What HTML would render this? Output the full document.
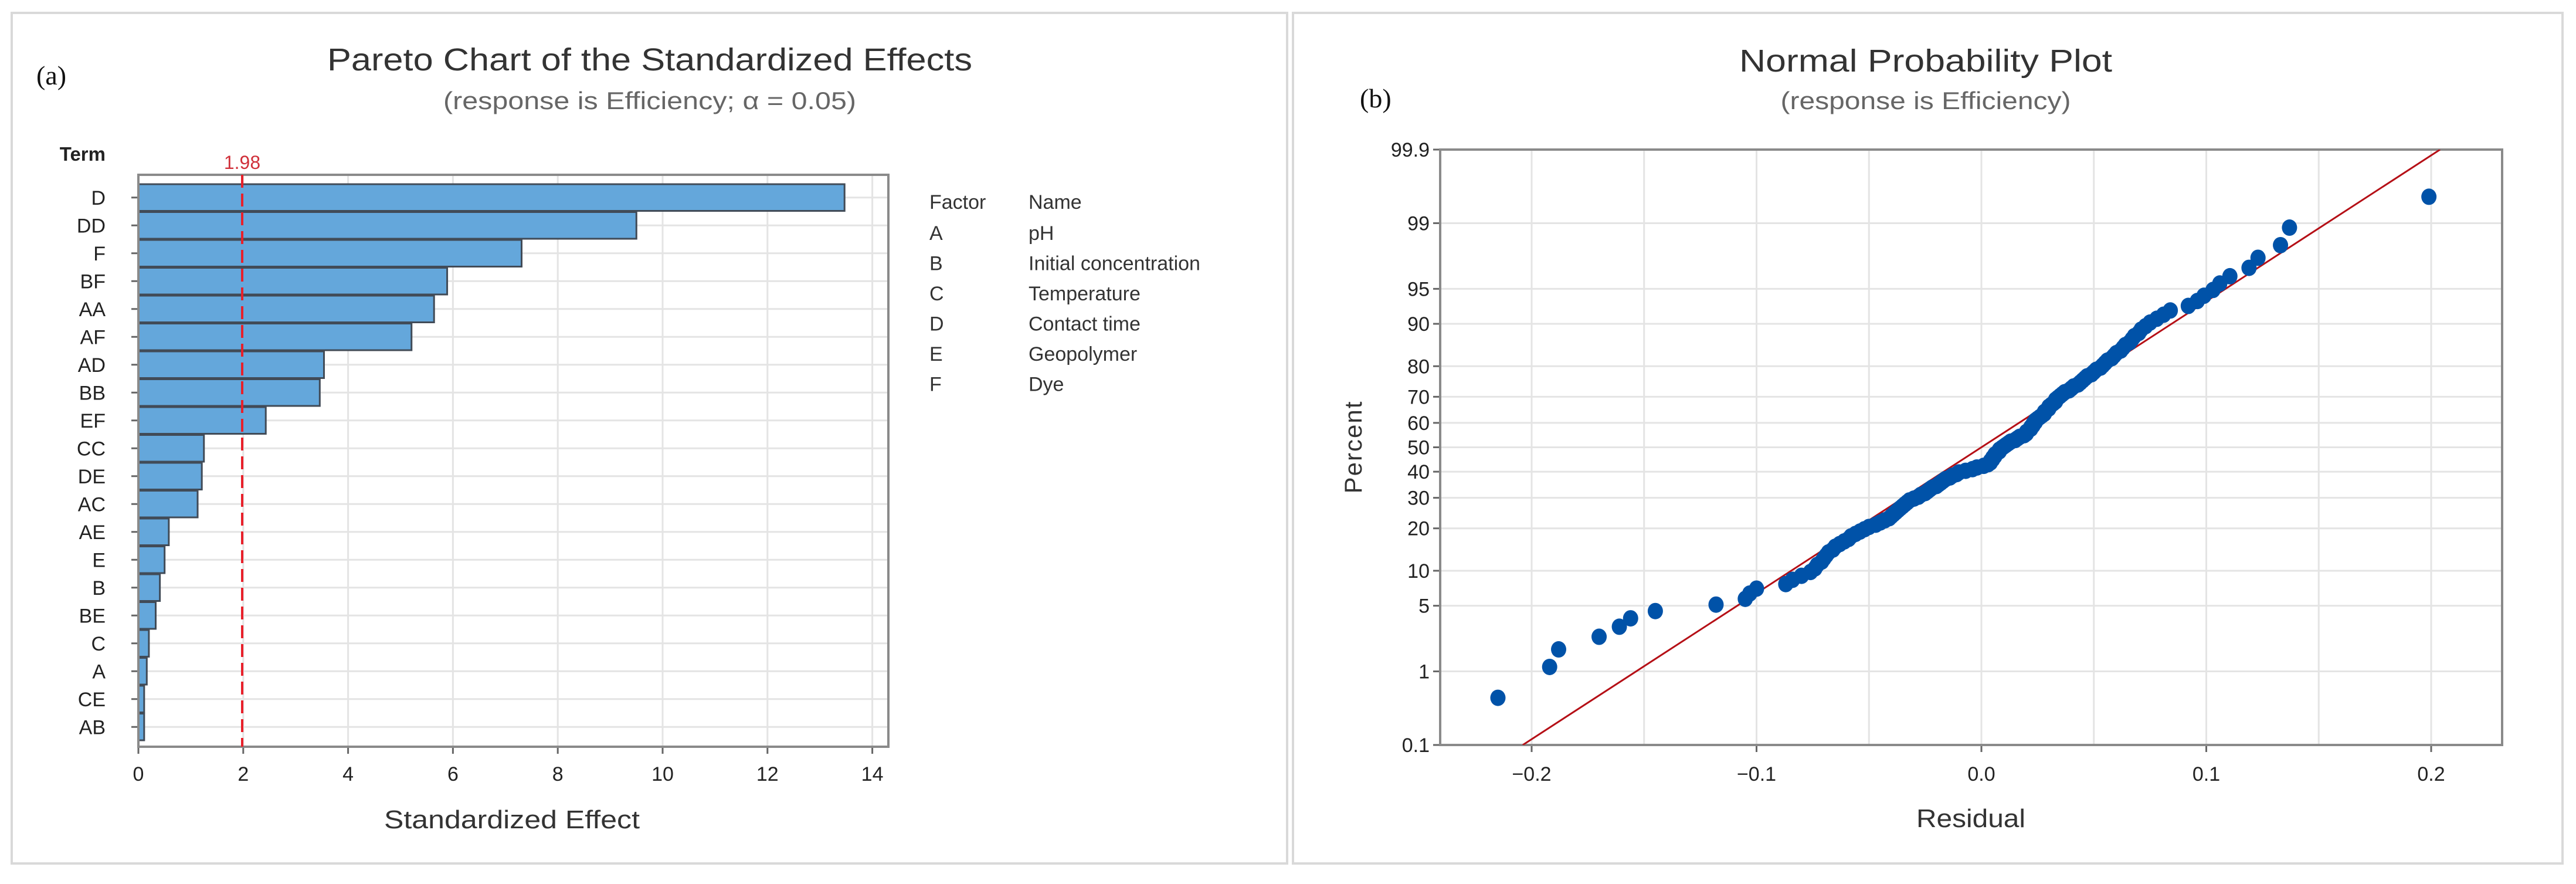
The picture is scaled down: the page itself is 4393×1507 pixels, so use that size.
<!DOCTYPE html>
<html><head><meta charset="utf-8"><style>
html,body{margin:0;padding:0;background:#fff;}
svg{display:block;font-family:"Liberation Sans",sans-serif;}
</style></head><body>
<svg id="root" width="4393" height="1507" viewBox="0 0 4393 1507" xmlns="http://www.w3.org/2000/svg">
<rect x="0" y="0" width="4393" height="1507" fill="#fff"/>
<rect x="20" y="22" width="2175" height="1450" fill="none" stroke="#d9d9d9" stroke-width="4"/>
<rect x="2205" y="22" width="2165" height="1450" fill="none" stroke="#d9d9d9" stroke-width="4"/>
<text x="62" y="144" font-family="Liberation Serif,serif" font-size="46" fill="#111">(a)</text>
<text x="1108" y="120" text-anchor="middle" font-size="54" fill="#333" textLength="1100" lengthAdjust="spacingAndGlyphs">Pareto Chart of the Standardized Effects</text>
<text x="1108" y="186" text-anchor="middle" font-size="42" fill="#666" textLength="704" lengthAdjust="spacingAndGlyphs">(response is Efficiency; α = 0.05)</text>
<text x="2319" y="183" font-family="Liberation Serif,serif" font-size="46" fill="#111">(b)</text>
<text x="3284" y="122" text-anchor="middle" font-size="54" fill="#333" textLength="636" lengthAdjust="spacingAndGlyphs">Normal Probability Plot</text>
<text x="3284" y="186" text-anchor="middle" font-size="42" fill="#666" textLength="495" lengthAdjust="spacingAndGlyphs">(response is Efficiency)</text>
<g id="pareto"></g>
<g id="prob"></g>
</svg>
<script>
// ---- Pareto data ----
const terms = ["D","DD","F","BF","AA","AF","AD","BB","EF","CC","DE","AC","AE","E","B","BE","C","A","CE","AB"];
const effects = [13.47,9.5,7.31,5.89,5.64,5.21,3.54,3.46,2.43,1.25,1.21,1.13,0.58,0.50,0.41,0.33,0.20,0.16,0.11,0.11];
const xTicks = [0,2,4,6,8,10,12,14];
const criticalValue = [1.98];
const factorCodes = ["A","B","C","D","E","F"];
const factorNames = ["pH","Initial concentration","Temperature","Contact time","Geopolymer","Dye"];
// ---- Normal probability data ----
const residuals = [-0.215,-0.192,-0.188,-0.170,-0.161,-0.156,-0.145,-0.118,-0.105,-0.103,-0.100,
-0.087,-0.084,-0.080,-0.076,
-0.074,-0.073,-0.071,-0.070,-0.069,-0.068,-0.066,-0.065,
-0.063,-0.061,-0.059,-0.058,-0.056,-0.054,-0.052,
-0.050,-0.047,-0.045,-0.043,-0.041,
-0.040,-0.039,-0.038,-0.037,-0.036,-0.035,-0.034,-0.033,-0.032,-0.030,
-0.028,-0.027,-0.025,-0.024,-0.023,-0.022,-0.020,-0.019,
-0.018,-0.017,-0.016,-0.014,-0.013,-0.011,-0.010,
-0.007,-0.004,-0.002,0.001,0.003,
0.004,0.004,0.005,0.005,0.006,0.006,0.007,0.008,0.008,0.009,0.010,
0.011,0.012,0.013,0.015,0.016,0.017,0.019,
0.020,0.020,0.021,0.022,0.022,0.023,0.023,0.024,0.024,0.025,0.026,
0.027,0.028,0.028,0.029,0.030,0.030,0.031,0.032,0.033,0.033,0.034,0.035,
0.036,0.037,0.039,0.040,0.041,0.043,0.044,
0.045,0.046,0.047,0.049,0.050,0.051,0.053,0.054,
0.055,0.056,0.058,0.059,0.060,0.062,0.063,
0.064,0.066,0.067,0.068,0.070,0.071,0.073,0.075,
0.078,0.081,0.084,0.092,0.096,0.099,0.103,0.106,
0.1105,0.119,0.123,0.133,0.137,0.199];
const fitMean = [0.0];
const fitStdDev = [0.066];
const percentTicks = [0.1,1,5,10,20,30,40,50,60,70,80,90,95,99,99.9];
const resTickLabels = ["−0.2","−0.1","0.0","0.1","0.2"];
const resTicks = [-0.2,-0.1,0,0.1,0.2];

const NS="http://www.w3.org/2000/svg";
function mk(tag, attrs, parent, text){
  const e=document.createElementNS(NS,tag);
  for(const k in attrs) e.setAttribute(k,attrs[k]);
  if(text!==undefined) e.textContent=text;
  parent.appendChild(e); return e;
}
// ===== Pareto =====
(function(){
  const g=document.getElementById('pareto');
  const L=236,R=1515,T=298,B=1273;
  const x0=236, ppu=89.4;
  const sx=v=>x0+v*ppu;
  const bandTop=313, band=47.5;
  const cy=i=>bandTop+band*(i+0.5);
  // vertical grid
  xTicks.forEach(t=>{
    if(t>0){
      const l=mk('line',{x1:sx(t),x2:sx(t),y1:T,y2:B,stroke:'#e4e4e4','stroke-width':3},g);
      
      
    }
    const tk=mk('line',{x1:sx(t),x2:sx(t),y1:B,y2:B+12,stroke:'#666','stroke-width':3},g);
    
    
    const tl=mk('text',{x:sx(t),y:1331,'text-anchor':'middle','font-size':34,fill:'#222'},g,String(t));
    
    
  });
  terms.forEach((t,i)=>{
    const gl=mk('line',{x1:L,x2:R,y1:cy(i),y2:cy(i),stroke:'#e4e4e4','stroke-width':3},g);
    
    
  });
  terms.forEach((t,i)=>{
    const r=mk('rect',{x:sx(0),y:cy(i)-band/2+1,width:sx(effects[i])-sx(0),height:band-2,fill:'#64a7db',stroke:'#414b57','stroke-width':3},g);
    
    
    const tk=mk('line',{x1:L-12,x2:L,y1:cy(i),y2:cy(i),stroke:'#666','stroke-width':3},g);
    
    
    const lb=mk('text',{x:180,y:cy(i)+12,'text-anchor':'end','font-size':34,fill:'#222'},g,t);
    
    
  });
  const fr=mk('rect',{x:L,y:T,width:R-L,height:B-T,fill:'none',stroke:'#8a8a8a','stroke-width':4},g);
  
  
  const cv=criticalValue[0];
  const dl=mk('line',{x1:sx(cv),x2:sx(cv),y1:T,y2:B,stroke:'#e8202a','stroke-width':4,'stroke-dasharray':'22 10'},g);
  
  
  const ct=mk('line',{x1:sx(cv),x2:sx(cv),y1:T,y2:T+14,stroke:'#e8202a','stroke-width':4},g);
  
  
  const cl=mk('text',{x:sx(cv),y:288,'text-anchor':'middle','font-size':32,fill:'#d0303a'},g,cv.toFixed(2));
  
  
  const tt=mk('text',{x:180,y:274,'text-anchor':'end','font-size':33,'font-weight':'bold',fill:'#222'},g,'Term');
  
  
  const xt=mk('text',{x:873,y:1412,'text-anchor':'middle','font-size':44,fill:'#333',textLength:436,lengthAdjust:'spacingAndGlyphs'},g,'Standardized Effect');
  
  
  const h1=mk('text',{x:1585,y:356,'font-size':34,fill:'#333'},g,'Factor');
  
  
  const h2=mk('text',{x:1754,y:356,'font-size':34,fill:'#333'},g,'Name');
  
  
  factorCodes.forEach((c,i)=>{
    const y=409+i*51.5;
    const a=mk('text',{x:1585,y:y,'font-size':34,fill:'#333'},g,c);
    
    
    const b=mk('text',{x:1754,y:y,'font-size':34,fill:'#333'},g,factorNames[i]);
    
    
  });
})();
// ===== Normal probability plot =====
function invNorm(p){
  const a=[-39.6968302866538,220.946098424521,-275.928510446969,138.357751867269,-30.6647980661472,2.50662827745924];
  const b=[-54.4760987982241,161.585836858041,-155.698979859887,66.8013118877197,-13.2806815528857];
  const c=[-0.00778489400243029,-0.322396458041136,-2.40075827716184,-2.54973253934373,4.37466414146497,2.93816398269878];
  const d=[0.00778469570904146,0.32246712907004,2.445134137143,3.75440866190742];
  const pl=0.02425;let q,r;
  if(p<pl){q=Math.sqrt(-2*Math.log(p));return (((((c[0]*q+c[1])*q+c[2])*q+c[3])*q+c[4])*q+c[5])/((((d[0]*q+d[1])*q+d[2])*q+d[3])*q+1);}
  if(p>1-pl){q=Math.sqrt(-2*Math.log(1-p));return -(((((c[0]*q+c[1])*q+c[2])*q+c[3])*q+c[4])*q+c[5])/((((d[0]*q+d[1])*q+d[2])*q+d[3])*q+1);}
  q=p-0.5;r=q*q;return (((((a[0]*r+a[1])*r+a[2])*r+a[3])*r+a[4])*r+a[5])*q/(((((b[0]*r+b[1])*r+b[2])*r+b[3])*r+b[4])*r+1);
}
(function(){
  const g=document.getElementById('prob');
  const L=2456,R=4267,T=255,B=1270;
  const zMax=invNorm(0.999);
  const sy=pct=>{const z=invNorm(pct/100);return (T+B)/2 - z*((B-T)/2)/zMax;};
  const x0=3379, ppu=3835;
  const sx=v=>x0+v*ppu;
  // vertical grid every 0.05
  for(let k=-4;k<=4;k++){
    const v=k*0.05;
    const l=mk('line',{x1:sx(v),x2:sx(v),y1:T,y2:B,stroke:'#e4e4e4','stroke-width':3},g);
    
    
  }
  resTicks.forEach((v,i)=>{
    const tk=mk('line',{x1:sx(v),x2:sx(v),y1:B,y2:B+12,stroke:'#666','stroke-width':3},g);
    
    
    const tl=mk('text',{x:sx(v),y:1331,'text-anchor':'middle','font-size':34,fill:'#222'},g,resTickLabels[i]);
    
    
  });
  percentTicks.forEach(p=>{
    const y=sy(p);
    if(p>0.1&&p<99.9){
      const l=mk('line',{x1:L,x2:R,y1:y,y2:y,stroke:'#e4e4e4','stroke-width':3},g);
      
      
    }
    const tk=mk('line',{x1:L-12,x2:L,y1:y,y2:y,stroke:'#666','stroke-width':3},g);
    
    
    const tl=mk('text',{x:2438,y:y+12,'text-anchor':'end','font-size':34,fill:'#222'},g,String(p));
    
    
  });
  const fr=mk('rect',{x:L,y:T,width:R-L,height:B-T,fill:'none',stroke:'#8a8a8a','stroke-width':4},g);
  
  
  // fit line
  const cp=mk('clipPath',{id:'pclip'},g);
  mk('rect',{x:L,y:T,width:R-L,height:B-T},cp);
  const m=fitMean[0], s=fitStdDev[0];
  const pLo=0.1, pHi=99.9;
  const fl=mk('line',{x1:sx(m+s*invNorm(pLo/100)),y1:sy(pLo),x2:sx(m+s*invNorm(pHi/100)),y2:sy(pHi),stroke:'#b50f16','stroke-width':3,'clip-path':'url(#pclip)'},g);
  
  
  const n=residuals.length;
  const sorted=residuals.slice().sort((a,b)=>a-b);
  sorted.forEach((r,i)=>{
    const pct=100*(i+1-0.3)/(n+0.4);
    const c=mk('ellipse',{cx:sx(r),cy:sy(pct),rx:13,ry:14,fill:'#0052a8'},g);
    
    
  });
  const yt=mk('text',{x:0,y:0,'text-anchor':'middle','font-size':42,fill:'#333','letter-spacing':'2',transform:'translate(2322,762) rotate(-90)'},g,'Percent');
  
  
  const xt=mk('text',{x:3361,y:1410,'text-anchor':'middle','font-size':44,fill:'#333',textLength:186,lengthAdjust:'spacingAndGlyphs'},g,'Residual');
  
  
})();
</script>
</body></html>
